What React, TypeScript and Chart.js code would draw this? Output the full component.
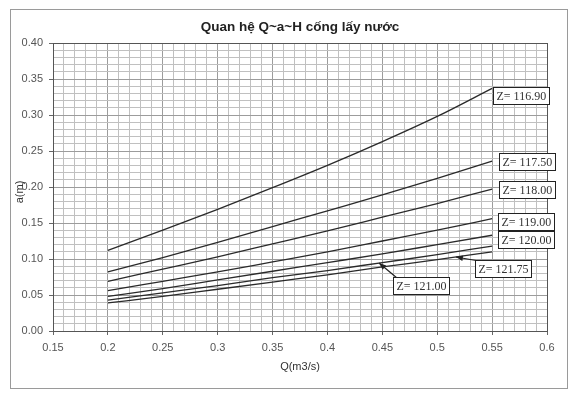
import React, { useEffect, useRef } from "react";
import { Chart, registerables } from "chart.js";

Chart.register(...registerables);

// ---------- data ----------
const qValues = [0.2, 0.25, 0.3, 0.35, 0.4, 0.45, 0.5, 0.55];
const seriesNames = ["Z= 116.90", "Z= 117.50", "Z= 118.00", "Z= 119.00", "Z= 120.00", "Z= 121.00", "Z= 121.75"];
const a116_90 = [0.112, 0.140, 0.169, 0.199, 0.230, 0.263, 0.298, 0.337];
const a117_50 = [0.082, 0.102, 0.123, 0.145, 0.167, 0.189, 0.212, 0.236];
const a118_00 = [0.069, 0.086, 0.103, 0.121, 0.139, 0.158, 0.177, 0.197];
const a119_00 = [0.056, 0.069, 0.082, 0.096, 0.110, 0.125, 0.140, 0.156];
const a120_00 = [0.048, 0.059, 0.071, 0.083, 0.095, 0.107, 0.120, 0.133];
const a121_00 = [0.043, 0.053, 0.063, 0.074, 0.084, 0.095, 0.106, 0.118];
const a121_75 = [0.039, 0.048, 0.058, 0.068, 0.078, 0.089, 0.099, 0.110];
const seriesValues = [a116_90, a117_50, a118_00, a119_00, a120_00, a121_00, a121_75];

const xMajorTicks = [0.15, 0.2, 0.25, 0.3, 0.35, 0.4, 0.45, 0.5, 0.55, 0.6];
const xTickLabels = ["0.15", "0.2", "0.25", "0.3", "0.35", "0.4", "0.45", "0.5", "0.55", "0.6"];
const yMajorTicks = [0, 0.05, 0.1, 0.15, 0.2, 0.25, 0.3, 0.35, 0.4];
const yTickLabels = ["0.00", "0.05", "0.10", "0.15", "0.20", "0.25", "0.30", "0.35", "0.40"];

const chartTitle = "Quan hệ Q~a~H cống lấy nước";
const xTitle = "Q(m3/s)";
const yTitle = "a(m)";

// ---------- label placement (layout, pixel offsets) ----------
const labelLayout = [
  { series: 0, kind: "end", dx: 1, dy: 7 },
  { series: 1, kind: "end", dx: 7, dy: 0 },
  { series: 2, kind: "end", dx: 7, dy: 0 },
  { series: 3, kind: "end", dx: 6, dy: 3 },
  { series: 4, kind: "end", dx: 6, dy: 4 },
  { series: 5, kind: "arrow", atQ: 0.447, dx: 14, dy: 22 },
  { series: 6, kind: "arrow", atQ: 0.517, dx: 19, dy: 11 },
];

const isMajor = (v: number) => Math.abs(v * 20 - Math.round(v * 20)) < 1e-6;
const findLabel = (ticks: number[], labels: string[], v: number) => {
  const i = ticks.findIndex((t) => Math.abs(t - v) < 1e-6);
  return i >= 0 ? labels[i] : "";
};

function interpAt(q: number, vals: number[]) {
  for (let i = 0; i < qValues.length - 1; i++) {
    if (q >= qValues[i] && q <= qValues[i + 1]) {
      const t = (q - qValues[i]) / (qValues[i + 1] - qValues[i]);
      return vals[i] + t * (vals[i + 1] - vals[i]);
    }
  }
  return vals[vals.length - 1];
}

const decorPlugin = {
  id: "decor",
  beforeDraw(chart: any) {
    const { ctx, width, height } = chart;
    ctx.save();
    ctx.fillStyle = "#ffffff";
    ctx.fillRect(0, 0, width, height);
    ctx.strokeStyle = "#9a9a9a";
    ctx.lineWidth = 1;
    ctx.strokeRect(10.5, 9.5, 557, 379);
    ctx.restore();
  },
  beforeDatasetsDraw(chart: any) {
    const { ctx, chartArea } = chart;
    ctx.save();
    ctx.strokeStyle = "#555";
    ctx.lineWidth = 1;
    ctx.strokeRect(
      Math.round(chartArea.left) + 0.5,
      Math.round(chartArea.top) + 0.5,
      Math.round(chartArea.right - chartArea.left),
      Math.round(chartArea.bottom - chartArea.top)
    );
    ctx.restore();
  },
  afterDraw(chart: any) {
    const { ctx, chartArea, scales } = chart;
    const xs = scales.x;
    const ys = scales.y;
    ctx.save();
    // title
    ctx.fillStyle = "#222";
    ctx.font = "bold 13.5px 'Liberation Sans', Arial, sans-serif";
    ctx.textAlign = "center";
    ctx.textBaseline = "middle";
    ctx.fillText(chartTitle, (chartArea.left + chartArea.right) / 2, 27);
    // axis titles
    ctx.font = "11px 'Liberation Sans', Arial, sans-serif";
    ctx.fillStyle = "#333";
    ctx.fillText(xTitle, (chartArea.left + chartArea.right) / 2, 367);
    ctx.save();
    ctx.translate(20, 192);
    ctx.rotate(-Math.PI / 2);
    ctx.fillText(yTitle, 0, 0);
    ctx.restore();

    // series labels
    ctx.font = "12px 'Liberation Serif', 'Times New Roman', serif";
    ctx.textBaseline = "middle";
    ctx.textAlign = "left";
    const boxH = 17;
    labelLayout.forEach((lab: any) => {
      const vals = seriesValues[lab.series];
      const text = seriesNames[lab.series];
      let ax: number, ay: number;
      if (lab.kind === "end") {
        ax = xs.getPixelForValue(qValues[qValues.length - 1]);
        ay = ys.getPixelForValue(vals[vals.length - 1]);
      } else {
        ax = xs.getPixelForValue(lab.atQ);
        ay = ys.getPixelForValue(interpAt(lab.atQ, vals));
      }
      const tw = ctx.measureText(text).width;
      const bw = Math.round(tw + 6);
      const bx = Math.round(ax + lab.dx);
      const by = Math.round(ay + lab.dy - boxH / 2);
      if (lab.kind === "arrow") {
        const sx = bx + 4;
        const sy = by + 1;
        ctx.strokeStyle = "#222";
        ctx.lineWidth = 1.2;
        ctx.beginPath();
        ctx.moveTo(sx, sy);
        ctx.lineTo(ax, ay);
        ctx.stroke();
        const ang = Math.atan2(ay - sy, ax - sx);
        const L = 7, W = 2.8;
        ctx.fillStyle = "#222";
        ctx.beginPath();
        ctx.moveTo(ax, ay);
        ctx.lineTo(ax - L * Math.cos(ang) + W * Math.sin(ang), ay - L * Math.sin(ang) - W * Math.cos(ang));
        ctx.lineTo(ax - L * Math.cos(ang) - W * Math.sin(ang), ay - L * Math.sin(ang) + W * Math.cos(ang));
        ctx.closePath();
        ctx.fill();
      }
      ctx.fillStyle = "#ffffff";
      ctx.fillRect(bx, by, bw, boxH);
      ctx.strokeStyle = "#222";
      ctx.lineWidth = 1;
      ctx.strokeRect(bx + 0.5, by + 0.5, bw, boxH);
      ctx.fillStyle = "#333";
      ctx.fillText(text, bx + 3.5, by + boxH / 2 + 1);
    });
    ctx.restore();
  },
};

export default function App() {
  const canvasRef = useRef<HTMLCanvasElement | null>(null);

  useEffect(() => {
    if (!canvasRef.current) return;
    const datasets = seriesValues.map((vals, i) => ({
      label: seriesNames[i],
      data: qValues.map((q, j) => ({ x: q, y: vals[j] })),
      borderColor: "#2a2a2a",
      borderWidth: 1.3,
      pointRadius: 0,
      fill: false,
      cubicInterpolationMode: "monotone" as const,
    }));

    const tickFont = { family: "'Liberation Sans', Arial, sans-serif", size: 11 };

    const chart = new Chart(canvasRef.current, {
      type: "line",
      data: { datasets },
      plugins: [decorPlugin],
      options: {
        responsive: false,
        animation: false,
        devicePixelRatio: 1,
        layout: { padding: { left: 0, right: 29, top: 43, bottom: 39 } },
        plugins: {
          legend: { display: false },
          tooltip: { enabled: false },
          title: { display: false },
        },
        scales: {
          x: {
            type: "linear",
            min: 0.15,
            max: 0.6,
            afterBuildTicks: (scale: any) => {
              const t = [];
              for (let i = 15; i <= 60; i++) t.push({ value: i / 100 });
              scale.ticks = t;
            },
            afterFit: (scale: any) => {
              scale.height = 24;
            },
            ticks: {
              autoSkip: false,
              maxRotation: 0,
              minRotation: 0,
              padding: 6,
              color: "#555",
              font: tickFont,
              callback: (v: any) => findLabel(xMajorTicks, xTickLabels, Number(v)),
            },
            grid: {
              color: (c: any) => (isMajor(c.tick.value) ? "#9c9c9c" : "#c0c0c0"),
              tickColor: (c: any) => (isMajor(c.tick.value) ? "#666" : "rgba(0,0,0,0)"),
              tickLength: 4,
              lineWidth: 1,
            },
            border: { color: "#555" },
          },
          y: {
            type: "linear",
            min: 0,
            max: 0.4,
            afterBuildTicks: (scale: any) => {
              const t = [];
              for (let i = 0; i <= 40; i++) t.push({ value: i / 100 });
              scale.ticks = t;
            },
            afterFit: (scale: any) => {
              scale.width = 53;
            },
            ticks: {
              autoSkip: false,
              padding: 6,
              color: "#555",
              font: tickFont,
              callback: (v: any) => findLabel(yMajorTicks, yTickLabels, Number(v)),
            },
            grid: {
              color: (c: any) => (isMajor(c.tick.value) ? "#9c9c9c" : "#c0c0c0"),
              tickColor: (c: any) => (isMajor(c.tick.value) ? "#666" : "rgba(0,0,0,0)"),
              tickLength: 4,
              lineWidth: 1,
            },
            border: { color: "#555" },
          },
        },
      },
    });
    return () => chart.destroy();
  }, []);

  return (
    <div style={{ position: "absolute", left: 0, top: 0, width: 576, height: 394, overflow: "hidden" }}>
      <canvas ref={canvasRef} width={576} height={394} style={{ display: "block", width: 576, height: 394 }} />
    </div>
  );
}
